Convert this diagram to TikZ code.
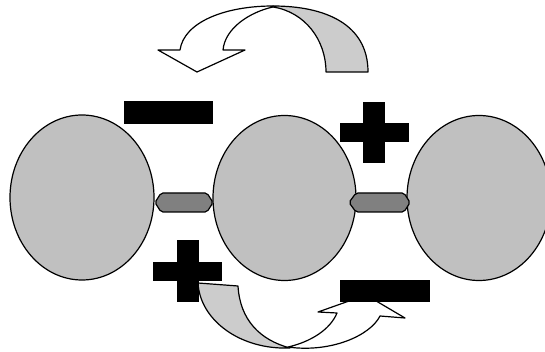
\documentclass[tikz,border=0pt]{standalone}
\begin{document}
\begin{tikzpicture}[x=1pt,y=-1pt,
  outline/.style={draw=black,line width=1.2pt,line join=round},
  bead/.style={outline,fill=beadgray},
  link/.style={outline,fill=linkgray,rounded corners=2pt},
  ribbonback/.style={outline,fill=ribbongray},
  ribbonfront/.style={outline,fill=white},
  sign/.style={fill=black,draw=none}]
\definecolor{beadgray}{HTML}{C0C0C0}
\definecolor{linkgray}{HTML}{808080}
\definecolor{ribbongray}{HTML}{CCCCCC}
\useasboundingbox (0,0) rectangle (545,352);
\clip (0,0) rectangle (545,352);
% beads
\draw[bead] (82,197.5) ellipse [x radius=72, y radius=82.5];
\draw[bead] (284.5,198) ellipse [x radius=71.5, y radius=82.5];
\draw[bead] (479,198) ellipse [x radius=72, y radius=82.5];
% links
\draw[link] (155,202.5)--(161,193)--(207,193)--(213,202.5)--(207,212)--(161,212)--cycle;
\draw[link] (349,202.5)--(356,193)--(404,193)--(410,202.5)--(404,212)--(356,212)--cycle;
% top curved arrow
\draw[ribbonback] (273,6) .. controls (325,6) and (368,24) .. (368,72) -- (326,72)
   .. controls (326,40) and (305,12) .. (273,7) -- cycle;
\draw[ribbonfront] (273,6) .. controls (225,6) and (184,22) .. (180,50) -- (158,50)
   -- (197,72) -- (245,50) -- (223,50) .. controls (225,28) and (250,12) .. (273,7) -- cycle;
% bottom curved arrow
\draw[ribbonback] (198,283) -- (238,286) .. controls (240,320) and (260,340) .. (290,348)
   .. controls (240,350) and (200,320) .. (198,283) -- cycle;
\draw[ribbonfront] (288,347) .. controls (330,353) and (370,336) .. (380,316) -- (405,318)
   -- (366,295) -- (318,312) -- (337,313) .. controls (330,330) and (310,342) .. (288,347) -- cycle;
% signs
\fill[sign] (124,101) rectangle (213,124);
\fill[sign] (363,102) rectangle (385,163);
\fill[sign] (340,123) rectangle (409,142);
\fill[sign] (177,240) rectangle (199,302);
\fill[sign] (153,262) rectangle (222,281);
\fill[sign] (340,280) rectangle (430,302);
\end{tikzpicture}
\end{document}
